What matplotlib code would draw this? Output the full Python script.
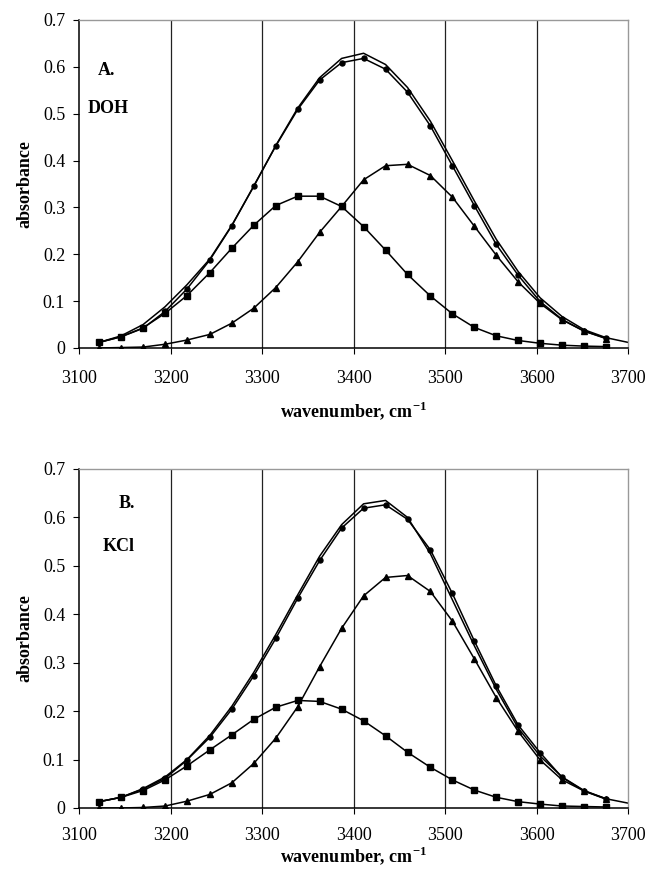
import matplotlib.pyplot as plt

plt.rcParams.update({'font.size': 13, 'font.family': 'Liberation Serif',
                     'mathtext.fontset': 'custom',
                     'mathtext.rm': 'Liberation Serif',
                     'mathtext.bf': 'Liberation Serif:bold'})

# wavenumbers of the sampled points
wn = [3122, 3146, 3170, 3194, 3218, 3243, 3267, 3291, 3315, 3339, 3363, 3387,
      3411, 3435, 3459, 3484, 3508, 3532, 3556, 3580, 3604, 3628, 3652, 3676]
wn_fit = wn + [3700]

# panel A (DOH)
a_fit = [0.012, 0.026, 0.050, 0.088, 0.135, 0.190, 0.262, 0.345, 0.432, 0.512, 0.577, 0.618,
         0.629, 0.605, 0.556, 0.484, 0.400, 0.314, 0.232, 0.163, 0.107, 0.067, 0.039, 0.022, 0.012]
a_obs = [0.012, 0.024, 0.042, 0.078, 0.126, 0.188, 0.261, 0.346, 0.431, 0.509, 0.572, 0.609,
         0.618, 0.595, 0.546, 0.474, 0.389, 0.304, 0.221, 0.155, 0.099, 0.061, 0.036, 0.021]
a_sq = [0.012, 0.024, 0.043, 0.074, 0.112, 0.161, 0.213, 0.262, 0.304, 0.324, 0.324, 0.302,
        0.259, 0.209, 0.157, 0.111, 0.073, 0.044, 0.026, 0.016, 0.010, 0.006, 0.004, 0.003]
a_tri = [0.000, 0.001, 0.002, 0.008, 0.017, 0.029, 0.053, 0.085, 0.129, 0.184, 0.247, 0.302,
         0.359, 0.389, 0.392, 0.368, 0.322, 0.260, 0.198, 0.141, 0.095, 0.060, 0.036, 0.020]

# panel B (KCl)
b_fit = [0.013, 0.022, 0.040, 0.064, 0.100, 0.150, 0.210, 0.280, 0.358, 0.440, 0.520, 0.585,
         0.628, 0.635, 0.600, 0.525, 0.430, 0.335, 0.245, 0.165, 0.107, 0.064, 0.036, 0.019, 0.010]
b_obs = [0.013, 0.022, 0.039, 0.061, 0.099, 0.146, 0.204, 0.273, 0.350, 0.433, 0.511, 0.578,
         0.619, 0.626, 0.596, 0.533, 0.443, 0.345, 0.252, 0.171, 0.114, 0.063, 0.035, 0.019]
b_sq = [0.013, 0.022, 0.036, 0.058, 0.087, 0.120, 0.151, 0.183, 0.208, 0.222, 0.220, 0.204,
        0.180, 0.149, 0.115, 0.084, 0.058, 0.037, 0.022, 0.013, 0.008, 0.004, 0.003, 0.002]
b_tri = [0.000, 0.000, 0.001, 0.004, 0.014, 0.028, 0.052, 0.092, 0.144, 0.209, 0.292, 0.371,
         0.438, 0.476, 0.480, 0.447, 0.386, 0.308, 0.228, 0.158, 0.099, 0.058, 0.035, 0.018]

panels = [
    ('A.', 'DOH', a_fit, a_obs, a_sq, a_tri, (3121, 0.593), (3109, 0.512)),
    ('B.', 'KCl', b_fit, b_obs, b_sq, b_tri, (3143, 0.628), (3126, 0.540)),
]
rects = [[0.1214, 0.605, 0.8433, 0.3723], [0.1214, 0.0829, 0.8433, 0.3848]]
xpads = [12, 10]
labelpads = [9, 0]

fig = plt.figure(figsize=(6.51, 8.81), dpi=100)

for rect, xpad, lpad, (tag, salt, fit, obs, sq, tri, tag_xy, salt_xy) in zip(rects, xpads, labelpads, panels):
    ax = fig.add_axes(rect)
    lw = 1.1
    ax.plot(wn_fit, fit, color='black', lw=lw)
    ax.plot(wn, obs, color='black', lw=lw, marker='o', ms=3.6)
    ax.plot(wn, sq, color='black', lw=lw, marker='s', ms=4.2)
    ax.plot(wn, tri, color='black', lw=lw, marker='^', ms=4.0)

    ax.set_xlim(3100, 3700)
    ax.set_ylim(0, 0.7)
    ax.set_xticks(range(3100, 3701, 100))
    ax.set_yticks([0, 0.1, 0.2, 0.3, 0.4, 0.5, 0.6, 0.7])
    ax.set_yticklabels(['0', '0.1', '0.2', '0.3', '0.4', '0.5', '0.6', '0.7'])
    for x in range(3200, 3700, 100):
        ax.axvline(x, color='#222222', lw=0.9, zorder=0)

    for side in ['top', 'right']:
        ax.spines[side].set_color('#999999')
        ax.spines[side].set_linewidth(1.0)
    for side in ['left', 'bottom']:
        ax.spines[side].set_color('black')
        ax.spines[side].set_linewidth(1.1)
    ax.tick_params(axis='x', direction='out', length=4, pad=xpad, labelsize=13)
    ax.tick_params(axis='y', direction='out', length=4, pad=6, labelsize=13)

    ax.set_ylabel('absorbance', fontweight='bold', fontsize=13, labelpad=7)
    ax.set_xlabel(r'wavenumber, cm$^{\mathbf{-1}}$', fontweight='bold', fontsize=13, labelpad=lpad)

    ax.text(tag_xy[0], tag_xy[1], tag, fontweight='bold', fontsize=13, va='center')
    ax.text(salt_xy[0], salt_xy[1], salt, fontweight='bold', fontsize=13, va='center')

fig.savefig('out.png', dpi=100)
